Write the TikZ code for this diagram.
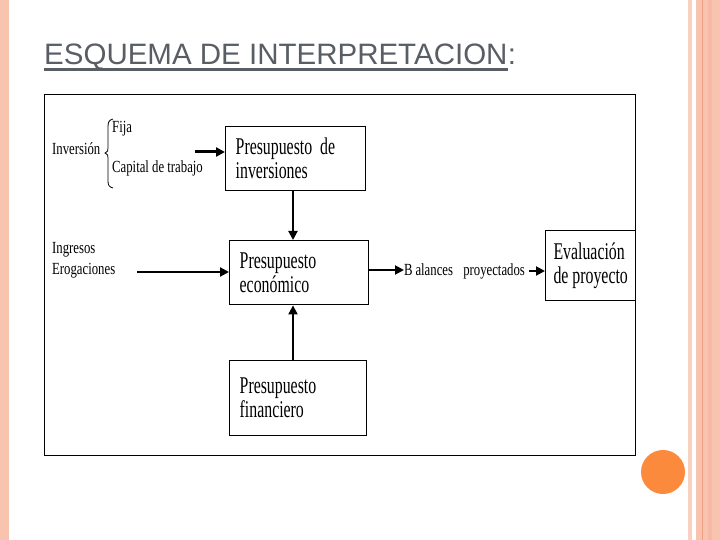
\documentclass[tikz,border=0pt]{standalone}
\usepackage{fontspec}
\usetikzlibrary{arrows.meta}
\setmainfont{Liberation Serif}
\newfontfamily\boxfont[FakeStretch=0.66]{Liberation Serif}
\newfontfamily\smallfont[FakeStretch=0.75]{Liberation Serif}
\newfontfamily\titlefont{Liberation Sans}
\definecolor{stripe}{HTML}{F8C4B0}
\definecolor{stripelight}{HTML}{FAD0C0}
\definecolor{stripedark}{HTML}{EE9F80}
\definecolor{stripemid}{HTML}{F5B9A4}
\definecolor{dot}{HTML}{FB8A3C}
\definecolor{titlegray}{HTML}{595E65}
\tikzset{
  boxnode/.style={draw=black, line width=1.4pt, inner xsep=10pt, inner ysep=0pt, align=left,
    font=\boxfont\fontsize{24}{24}\selectfont, anchor=north west},
  lbl/.style={inner sep=0pt, anchor=base west, font=\smallfont\fontsize{17}{20}\selectfont},
  arr/.style={line width=2pt, -{Triangle[length=9pt,width=9pt]}},
  vline/.style={line width=2pt}
}
\begin{document}
\begin{tikzpicture}[x=1pt,y=-1pt]
\useasboundingbox (0,0) rectangle (720,540);
% decorative stripes
\fill[stripe] (0,0) rectangle (9,540);
\fill[stripelight] (688,0) rectangle (692,540);
\fill[stripe] (696,0) rectangle (720,540);
\fill[stripemid] (708,0) rectangle (712,540);
\draw[stripedark, line width=0.8pt] (702,0) -- (702,540);
\fill[dot] (663,472) circle (22);
% title
\node[inner sep=0pt, anchor=base west, text=titlegray, font=\titlefont\fontsize{29.5}{32}\selectfont] (title) at (44,64.3) {ESQUEMA DE INTERPRETACION};
\node[inner sep=0pt, anchor=base west, text=titlegray, font=\titlefont\fontsize{29.5}{32}\selectfont] (colon) at (title.base east) {:};
\draw[titlegray, line width=2.6pt] ([yshift=-5pt]title.base west) -- ([yshift=-5pt]title.base east);
% frame
\draw[line width=1pt] (44,95) rectangle (635,455);
% boxes
\node[boxnode, minimum width=140pt, minimum height=64pt, text width=120pt] (inv) at (225,126) {Presupuesto de\\inversiones};
\node[boxnode, minimum width=139pt, minimum height=64pt, text width=119pt] (eco) at (229,240) {Presupuesto\\econ\'omico};
\node[boxnode, minimum width=137pt, minimum height=75pt, text width=117pt] (fin) at (229,360) {Presupuesto\\financiero\\[6pt]};
\node[boxnode, minimum width=90pt, minimum height=70pt, inner xsep=2pt] (eval) at (545,230) {Evaluaci\'on\\de proyecto};
% labels
\node[lbl] (inversion) at (52,155) {Inversi\'on};
\node[lbl] (fija) at (112,133) {Fija};
\node[lbl] (capital) at (112,173) {Capital de trabajo};
\node[lbl] (ingresos) at (52,253) {Ingresos};
\node[lbl] (erogaciones) at (52,274) {Erogaciones};
\node[lbl] (balances) at (404,275) {B\,alances\hspace{0.6em}proyectados};
% brace
\draw[line width=0.8pt] (113,119) .. controls (109,120) and (108,122) .. (108,127) -- (108,148)
  .. controls (108,151) .. (105,153) .. controls (108,155) .. (108,158) -- (108,181)
  .. controls (108,185) and (109,187) .. (113,188);
% connectors
\coordinate (invstart) at (195,152);
\draw[arr, line width=3pt] (invstart) -- (inv.west |- invstart);
\coordinate (ingstart) at (137,272);
\draw[arr] (ingstart) -- (eco.west |- ingstart);
\draw[arr] (inv.south -| 293,0) -- (eco.north -| 293,0);
\draw[arr] (fin.north -| 293,0) -- (eco.south -| 293,0);
\draw[arr] (eco.east |- 0,270) -- (balances.west |- 0,270);
\draw[arr] (balances.east |- 0,271) ++(4,0) -- (eval.west |- 0,271);
\end{tikzpicture}
\end{document}
